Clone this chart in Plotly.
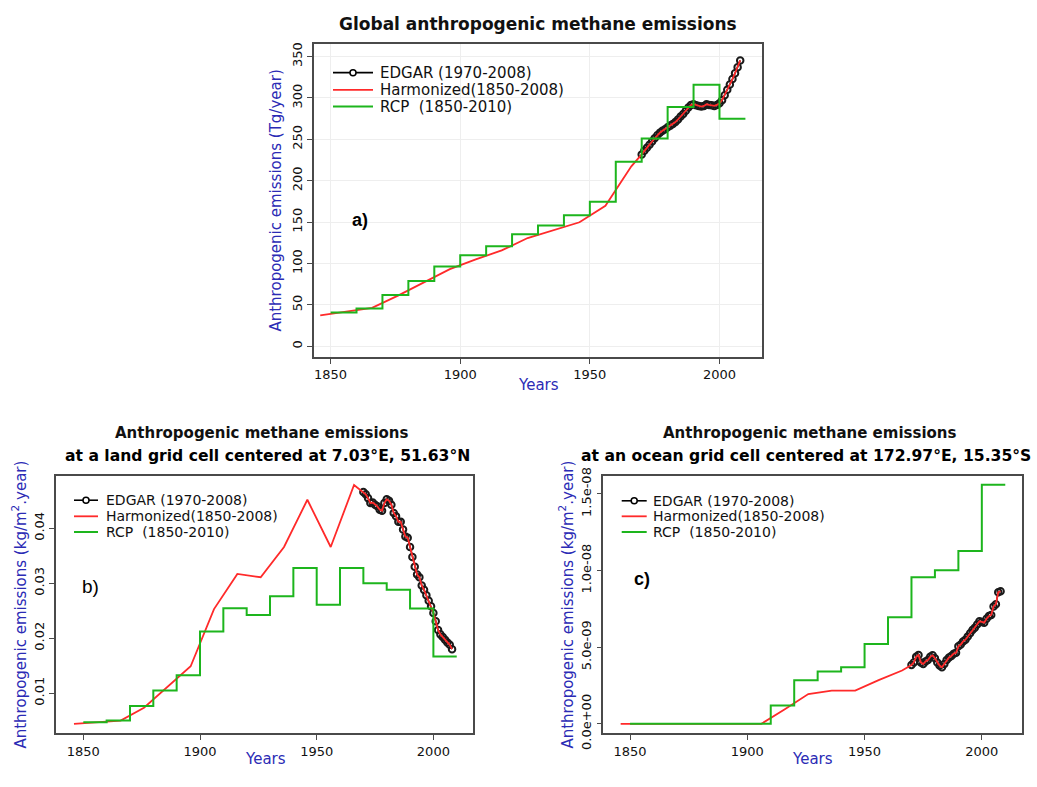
import plotly.graph_objects as go

W, H = 1037, 787

# ---------------- data ----------------
edgar_years = list(range(1970, 2009))
harm_early_years = [1846, 1856, 1866, 1876, 1886, 1896, 1906, 1916, 1926, 1936, 1946, 1956, 1966]
rcp_years = [1850, 1860, 1870, 1880, 1890, 1900, 1910, 1920, 1930, 1940, 1950, 1960, 1970, 1980, 1990, 2000]
rcp_end_year = 2010

# a) global totals, Tg/year
global_edgar = [231.8, 236.2, 240.0, 243.6, 247.4, 251.4, 254.9, 258.0, 260.3, 262.3,
                264.6, 266.6, 268.5, 270.9, 274.0, 277.5, 280.6, 284.5, 288.4, 291.6,
                292.4, 291.2, 290.4, 289.6, 290.4, 292.4, 291.6, 291.2, 290.4, 291.6,
                293.6, 297.4, 303.3, 310.0, 316.2, 322.8, 329.9, 337.2, 345.4]
global_harm_early = [37.5, 41.8, 46.4, 61.3, 77.7, 93.3, 105.0, 115.9, 130.8, 140.2, 149.9, 169.8, 217.4]
global_rcp = [41.0, 45.7, 62.1, 78.8, 96.4, 110.1, 121.0, 135.5, 146.0, 158.4, 174.5, 223.0,
              251.0, 289.0, 316.0, 275.0]

# b) land grid cell 7.03E, 51.63N, kg/m2/year
land_edgar = [0.0466, 0.0462, 0.0455, 0.0446, 0.0447, 0.0443, 0.0440, 0.0434, 0.0432, 0.0446,
              0.0453, 0.0450, 0.0443, 0.0428, 0.0422, 0.0412, 0.0412, 0.0398, 0.0385, 0.0383,
              0.0366, 0.0348, 0.0330, 0.0316, 0.0311, 0.0296, 0.0288, 0.0278, 0.0268, 0.0258,
              0.0246, 0.0231, 0.0215, 0.0207, 0.0202, 0.0197, 0.0192, 0.0188, 0.0180]
land_harm_early = [0.00442, 0.00470, 0.00500, 0.00735, 0.0112, 0.0149, 0.0253, 0.0317,
                   0.0311, 0.0366, 0.0452, 0.0366, 0.0479]
land_rcp = [0.00471, 0.00500, 0.00765, 0.01048, 0.01325, 0.0212, 0.02547, 0.02424, 0.02765,
            0.0328, 0.0261, 0.0328, 0.0300, 0.02883, 0.02542, 0.01665]

# c) ocean grid cell 172.97E, 15.35S, kg/m2/year
ocean_edgar = [3.84e-9, 4.01e-9, 4.37e-9, 4.49e-9, 4.01e-9, 3.90e-9, 4.07e-9, 4.16e-9, 4.37e-9, 4.47e-9,
               4.28e-9, 4.01e-9, 3.80e-9, 3.69e-9, 3.90e-9, 4.16e-9, 4.33e-9, 4.43e-9, 4.58e-9, 4.64e-9,
               5.06e-9, 5.17e-9, 5.38e-9, 5.49e-9, 5.70e-9, 5.91e-9, 6.12e-9, 6.27e-9, 6.48e-9, 6.69e-9,
               6.65e-9, 6.60e-9, 6.86e-9, 7.03e-9, 7.11e-9, 7.66e-9, 7.81e-9, 8.59e-9, 8.65e-9]
ocean_harm_early = [0.0, 0.0, 0.0, 0.0, 0.0, 0.0, 0.0, 0.95e-9, 1.94e-9, 2.17e-9, 2.17e-9, 2.85e-9, 3.48e-9]
ocean_rcp = [0.0, 0.0, 0.0, 0.0, 0.0, 0.0, 1.2e-9, 2.85e-9, 3.42e-9, 3.69e-9, 5.21e-9, 6.96e-9,
             9.56e-9, 10.02e-9, 11.28e-9, 15.61e-9]

series_names = ["EDGAR (1970-2008)", "Harmonized(1850-2008)", "RCP  (1850-2010)"]

# ---------------- styling ----------------
FONT = "DejaVu Sans"
BLUE = "#2b2bb5"
FRAME = "#4a4a4a"
RED = "#ff2a2a"
GREEN = "#1db51d"


def xp(px):
    return px / W


def yp(py):
    return 1 - py / H


fig = go.Figure()

panels = [
    dict(ax="", edgar=global_edgar, harm=global_harm_early, rcp=global_rcp),
    dict(ax="2", edgar=land_edgar, harm=land_harm_early, rcp=land_rcp),
    dict(ax="3", edgar=ocean_edgar, harm=ocean_harm_early, rcp=ocean_rcp),
]

for p in panels:
    xa, ya = "x" + p["ax"], "y" + p["ax"]
    fig.add_trace(go.Scatter(
        x=edgar_years, y=p["edgar"], xaxis=xa, yaxis=ya, showlegend=False,
        name=series_names[0], mode="lines+markers",
        line=dict(color="black", width=1.6),
        marker=dict(symbol="circle-open", size=6.5, color="#1a1a1a", line=dict(width=2)),
    ))
    fig.add_trace(go.Scatter(
        x=harm_early_years + edgar_years, y=p["harm"] + p["edgar"], xaxis=xa, yaxis=ya,
        showlegend=False, name=series_names[1], mode="lines",
        line=dict(color=RED, width=1.8),
    ))
    fig.add_trace(go.Scatter(
        x=rcp_years + [rcp_end_year], y=p["rcp"] + [p["rcp"][-1]], xaxis=xa, yaxis=ya,
        showlegend=False, name=series_names[2], mode="lines",
        line=dict(color=GREEN, width=2, shape="hv"),
    ))

common_axis = dict(
    showline=True, mirror=True, linecolor=FRAME, linewidth=1.5,
    ticks="outside", ticklen=5, tickcolor=FRAME, tickwidth=1,
    zeroline=False, tickfont=dict(family=FONT, size=13, color="#111"),
)

fig.update_layout(
    width=W, height=H, margin=dict(l=0, r=0, t=0, b=0),
    paper_bgcolor="white", plot_bgcolor="white", showlegend=False,
    xaxis=dict(domain=[xp(314), xp(762)], range=[1843.6, 2016.4], anchor="y",
               tickvals=[1850, 1900, 1950, 2000], showgrid=True, gridcolor="#eeeeee", **common_axis),
    yaxis=dict(domain=[yp(360), yp(37.3)], range=[-12.9, 365], anchor="x",
               tickvals=[0, 50, 100, 150, 200, 250, 300, 350], tickangle=-90,
               showgrid=True, gridcolor="#eeeeee", **common_axis),
    xaxis2=dict(domain=[xp(56), xp(473.3)], range=[1838.3, 2017.1], anchor="y2",
                tickvals=[1850, 1900, 1950, 2000], showgrid=False, **common_axis),
    yaxis2=dict(domain=[yp(748.3), yp(482.3)], range=[0.00266, 0.0496], anchor="x2",
                tickvals=[0.01, 0.02, 0.03, 0.04], ticktext=["0.01", "0.02", "0.03", "0.04"],
                tickangle=-90, showgrid=False, **common_axis),
    xaxis3=dict(domain=[xp(603.3), xp(1021.7)], range=[1838.6, 2017.0], anchor="y3",
                tickvals=[1850, 1900, 1950, 2000], showgrid=False, **common_axis),
    yaxis3=dict(domain=[yp(748.3), yp(482.3)], range=[-6.3e-10, 1.62e-8], anchor="x3",
                tickvals=[0, 5e-9, 1e-8, 1.5e-8],
                ticktext=["0.0e+00", "5.0e-09", "1.0e-08", "1.5e-08"],
                tickangle=-90, showgrid=False, **common_axis),
)


def note(text, x, y, size, color="#111", angle=0, weight="normal", family=FONT, xanchor="center"):
    fig.add_annotation(text=text, x=xp(x), y=yp(y), xref="paper", yref="paper",
                       showarrow=False, textangle=angle, xanchor=xanchor, yanchor="middle",
                       font=dict(family=family, size=size, color=color, weight=weight))


# legend keys drawn in pixel positions: sample line start/end, text start, row centres
def legend_block(x0, x1, tx, rows, size):
    colors = ["black", RED, GREEN]
    widths = [1.6, 1.8, 2.0]
    for name, col, w, ry in zip(series_names, colors, widths, rows):
        fig.add_shape(type="line", xref="paper", yref="paper",
                      x0=xp(x0), x1=xp(x1), y0=yp(ry), y1=yp(ry),
                      line=dict(color=col, width=w))
        note(name, tx, ry, size, color="#111", xanchor="left")
    cx = (x0 + x1) / 2
    fig.add_shape(type="circle", xref="paper", yref="paper",
                  xsizemode="pixel", ysizemode="pixel",
                  xanchor=xp(cx), yanchor=yp(rows[0]), x0=-3, x1=3, y0=-3, y1=3,
                  fillcolor="white", line=dict(color="black", width=1.5))


legend_block(333, 373, 378, [66.7, 84.5, 101.7], 15)
legend_block(74, 98, 104, [507.7, 524.3, 540.5], 14)
legend_block(621.7, 646.7, 651, [508.3, 524.3, 540.5], 14)

# titles
note("Global anthropogenic methane emissions", 538, 17, 17, weight="bold")
note("Anthropogenic methane emissions", 262, 438, 15, weight=600)
note("at a land grid cell centered at 7.03°E, 51.63°N", 267, 462, 15.6, color="#000", weight="bold")
note("Anthropogenic methane emissions", 810, 438, 15, weight=600)
note("at an ocean grid cell centered at 172.97°E, 15.35°S", 806, 462, 15.6, color="#000", weight="bold")

# axis titles
note("Years", 538, 389, 15, color=BLUE)
note("Years", 265, 775, 15, color=BLUE)
note("Years", 812, 775, 15, color=BLUE)
note("Anthropogenic emissions (Tg/year)", 276, 198.6, 15, color=BLUE, angle=-90)
note("Anthropogenic emissions (kg/m<sup>2</sup>.year)", 19, 615.3, 15, color=BLUE, angle=-90)
note("Anthropogenic emissions (kg/m<sup>2</sup>.year)", 566, 615.3, 15, color=BLUE, angle=-90)

# panel letters
note("a)", 360, 219, 18, color="#000", family="Liberation Sans", weight="bold")
note("b)", 90, 597, 19, color="#000", family="Liberation Sans")
note("c)", 642, 589, 18, color="#000", family="Liberation Sans", weight="bold")

fig.write_html("out.html")
